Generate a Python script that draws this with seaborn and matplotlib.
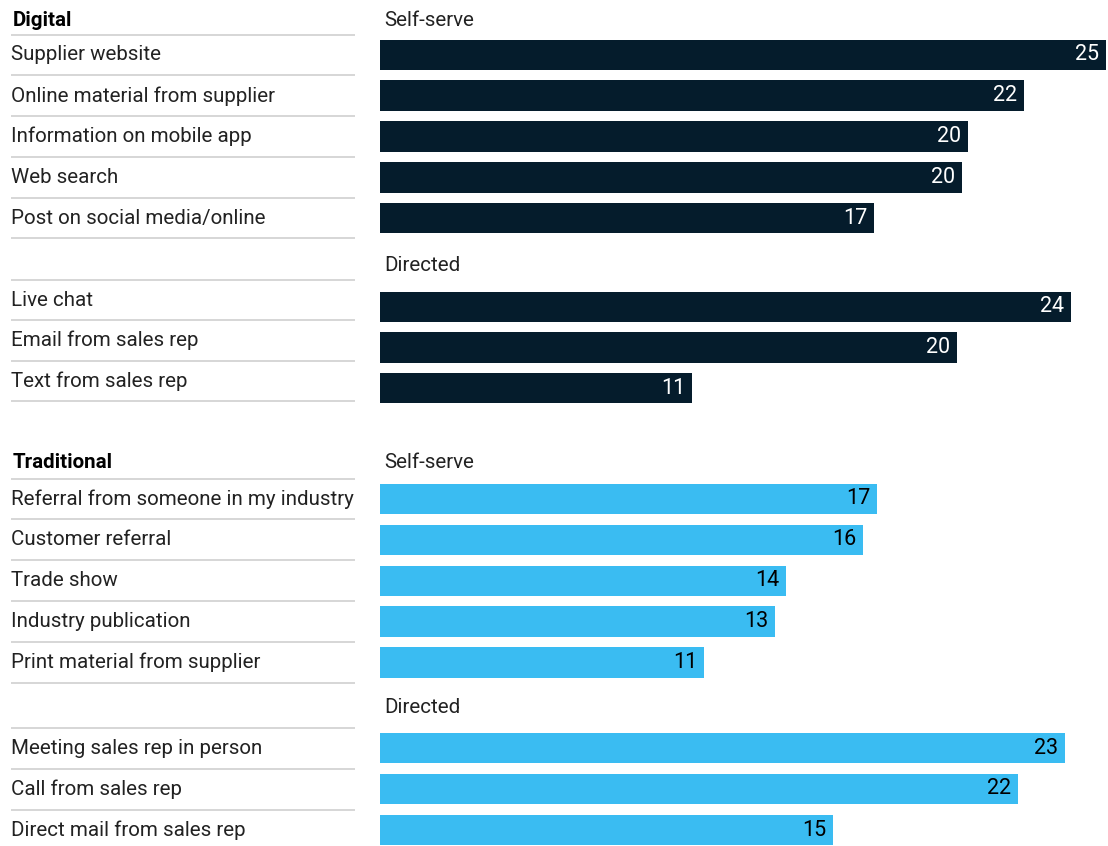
import matplotlib
matplotlib.use("Agg")
import matplotlib.pyplot as plt
import matplotlib.transforms as mtransforms
import seaborn as sns
import pandas as pd

# values (share of respondents, %)
digital_self_cats = ["Supplier website", "Online material from supplier",
                     "Information on mobile app", "Web search",
                     "Post on social media/online"]
digital_self_vals = [24.75, 21.96, 20.05, 19.84, 16.84]

digital_dir_cats = ["Live chat", "Email from sales rep", "Text from sales rep"]
digital_dir_vals = [23.56, 19.67, 10.64]

trad_self_cats = ["Referral from someone in my industry", "Customer referral",
                  "Trade show", "Industry publication", "Print material from supplier"]
trad_self_vals = [16.95, 16.47, 13.84, 13.47, 11.05]

trad_dir_cats = ["Meeting sales rep in person", "Call from sales rep",
                 "Direct mail from sales rep"]
trad_dir_vals = [23.36, 21.75, 15.45]

NAVY = "#051C2C"
CYAN = "#3ABCF2"
GRID = "#cfcfcf"

sns.set_theme(style="white")
plt.rcParams["font.family"] = ["Roboto", "DejaVu Sans"]

W, H = 1108, 846
fig = plt.figure(figsize=(W / 100, H / 100), dpi=100)
FS = 14.8
NUM_FS = 15.5

# (cats, vals, bar colour, number colour, first bar centre px, row pitch px, label shift px, line after last row)
groups = [
    (digital_self_cats, digital_self_vals, NAVY, "white", 55, 40.75, 0, True),
    (digital_dir_cats, digital_dir_vals, NAVY, "white", 307, 40.5, 7, True),
    (trad_self_cats, trad_self_vals, CYAN, "black", 499, 40.9, 0, True),
    (trad_dir_cats, trad_dir_vals, CYAN, "black", 748, 41, 0, False),
]

for cats, vals, col, tcol, c0, pitch, shift, last_line in groups:
    n = len(cats)
    top = c0 - pitch / 2
    h = n * pitch
    ax = fig.add_axes([380 / W, 1 - (top + h) / H, 728 / W, h / H])
    df = pd.DataFrame({"item": cats, "value": vals})
    sns.barplot(data=df, x="value", y="item", orient="h", color=col,
                saturation=1, width=30.5 / pitch, linewidth=0, ax=ax)
    ax.set_xlim(0, 728 / 29.33)
    ax.set_ylim(n - 0.5, -0.5)
    ax.set_xticks([])
    ax.set_yticks([])
    ax.set_xlabel("")
    ax.set_ylabel("")
    sns.despine(ax=ax, left=True, bottom=True)

    texts = ax.bar_label(ax.containers[0], labels=[f"{v:.0f}" for v in vals],
                         padding=-5, color=tcol, fontsize=NUM_FS)
    for t in texts:
        t.set_ha("right")

    blend = mtransforms.blended_transform_factory(fig.transFigure, ax.transData)
    blend = blend + mtransforms.ScaledTranslation(0, shift / 100, fig.dpi_scale_trans)
    for i, lab in enumerate(cats):
        ax.text(11 / W, i, lab, transform=blend, ha="left", va="center",
                fontsize=FS, color="#222222", clip_on=False)
    nlines = n + 1 if last_line else n
    for k in range(nlines):
        y = k - 0.5
        ax.plot([11 / W, 355 / W], [y, y], transform=blend, color=GRID,
                lw=1.2, clip_on=False, solid_capstyle="butt")

# section and sub-section headers
fig.text(13 / W, 1 - 20 / H, "Digital", fontsize=FS, fontweight="bold", va="center", color="black")
fig.text(384 / W, 1 - 20 / H, "Self-serve", fontsize=FS, va="center", color="#222222")
fig.text(384 / W, 1 - 265 / H, "Directed", fontsize=FS, va="center", color="#222222")
fig.text(13 / W, 1 - 463 / H, "Traditional", fontsize=FS, fontweight="bold", va="center", color="black")
fig.text(384 / W, 1 - 463 / H, "Self-serve", fontsize=FS, va="center", color="#222222")
fig.text(384 / W, 1 - 707 / H, "Directed", fontsize=FS, va="center", color="#222222")

fig.savefig("out.png", dpi=100)
